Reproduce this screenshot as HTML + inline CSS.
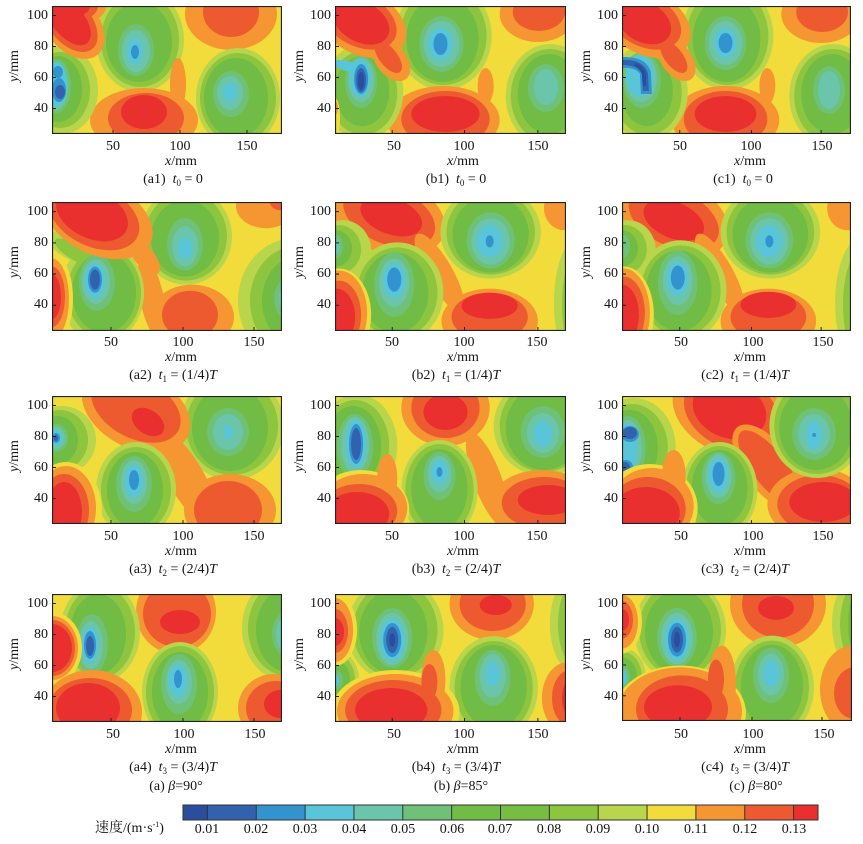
<!DOCTYPE html>
<html><head><meta charset="utf-8">
<style>
html,body{margin:0;padding:0;background:#fff;}
body{width:863px;height:844px;position:relative;overflow:hidden;font-family:"Liberation Serif","Noto Serif CJK SC",serif;color:#151515;}
svg.p{position:absolute;display:block;overflow:hidden;}
.t,.r,.yl{position:absolute;font-size:14px;line-height:14px;white-space:nowrap;}
.t{transform:translate(-50%,-50%);}
.r{transform:translate(-100%,-50%);}
.yl{transform:translate(-50%,-50%) rotate(-90deg);}
sub{font-size:9px;vertical-align:-3px;line-height:0;}
sup{font-size:8px;vertical-align:5px;line-height:0;}
.c0{fill:#2a4e9e}.c1{fill:#3262ad}.c2{fill:#3393cf}.c3{fill:#58c5d9}.c4{fill:#6ac5ab}.c5{fill:#6ec177}
.c6{fill:#70bc44}.c8{fill:#8dc53e}.c9{fill:#b9d54b}.c10{fill:#f1dc3b}.c11{fill:#f59633}.c12{fill:#ee5a2f}.c13{fill:#ea2f2f}
.bd{fill:none;stroke:#222;stroke-width:1.2}
.tk{fill:none;stroke:#222;stroke-width:1}
.cb{font-size:14px !important;}
</style></head><body>

<!-- ================= ROW 1 ================= -->
<svg class="p" style="left:52px;top:6px;width:230px;height:128px" viewBox="0 0 230 128" preserveAspectRatio="none">
<rect class="c10" x="-5" y="-5" width="240" height="140"/>
<ellipse class="c11" cx="179" cy="8" rx="46" ry="36"/>
<ellipse class="c12" cx="179" cy="6" rx="28" ry="25"/>
<ellipse class="c9" cx="88" cy="34" rx="44" ry="52"/>
<ellipse class="c8" cx="88" cy="34" rx="39" ry="47"/>
<ellipse class="c6" cx="87" cy="36" rx="33" ry="40"/>
<ellipse class="c5" cx="84" cy="44" rx="18" ry="26"/>
<ellipse class="c4" cx="84" cy="45" rx="14" ry="21"/>
<ellipse class="c3" cx="83" cy="45" rx="8" ry="13"/>
<ellipse class="c2" cx="83" cy="46" rx="4" ry="7"/>
<ellipse class="c9" cx="186" cy="92" rx="42" ry="50"/>
<ellipse class="c8" cx="186" cy="92" rx="38" ry="45"/>
<ellipse class="c6" cx="184" cy="92" rx="32" ry="40"/>
<ellipse class="c5" cx="179" cy="88" rx="18" ry="23"/>
<ellipse class="c4" cx="178" cy="87" rx="13" ry="17"/>
<ellipse class="c3" cx="178" cy="86" rx="7" ry="9"/>
<ellipse class="c11" cx="92" cy="114" rx="54" ry="32"/>
<ellipse class="c11" cx="126" cy="78" rx="8" ry="26"/>
<ellipse class="c12" cx="94" cy="112" rx="38" ry="25"/>
<ellipse class="c13" cx="92" cy="106" rx="23" ry="17"/>
<ellipse class="c9" cx="10" cy="84" rx="36" ry="44"/>
<ellipse class="c8" cx="8" cy="84" rx="30" ry="38"/>
<ellipse class="c6" cx="6" cy="83" rx="24" ry="33"/>
<ellipse class="c5" cx="4" cy="80" rx="15" ry="27"/>
<ellipse class="c4" cx="4" cy="80" rx="12" ry="24"/>
<ellipse class="c3" cx="5" cy="78" rx="10" ry="22"/>
<ellipse class="c2" cx="7" cy="84" rx="7" ry="12"/>
<ellipse class="c2" cx="6" cy="66" rx="5" ry="6"/>
<ellipse class="c1" cx="8" cy="86" rx="5" ry="7"/>
<ellipse class="c11" cx="20" cy="18" rx="40" ry="26" transform="rotate(50 20 18)"/>
<ellipse class="c11" cx="20" cy="0" rx="34" ry="20"/>
<ellipse class="c12" cx="18" cy="16" rx="35" ry="21" transform="rotate(50 18 16)"/>
<ellipse class="c12" cx="18" cy="0" rx="28" ry="16"/>
<ellipse class="c13" cx="16" cy="14" rx="30" ry="16" transform="rotate(50 16 14)"/>
<ellipse class="c13" cx="16" cy="0" rx="22" ry="12"/>
<path class="tk" d="M61,128v-4M128,128v-4M195,128v-4M0,9.5h4M0,40.5h4M0,71.5h4M0,102.5h4"/>
<rect class="bd" x="0.5" y="0.5" width="229" height="127"/>
</svg>

<svg class="p" style="left:335px;top:6px;width:231px;height:128px" viewBox="0 0 230 128" preserveAspectRatio="none">
<rect class="c10" x="-5" y="-5" width="240" height="140"/>
<ellipse class="c11" cx="202" cy="8" rx="38" ry="28"/>
<ellipse class="c12" cx="203" cy="6" rx="26" ry="19"/>
<ellipse class="c9" cx="108" cy="30" rx="48" ry="54"/>
<ellipse class="c8" cx="108" cy="30" rx="43" ry="49"/>
<ellipse class="c6" cx="107" cy="33" rx="36" ry="43"/>
<ellipse class="c5" cx="106" cy="38" rx="22" ry="28"/>
<ellipse class="c4" cx="106" cy="38" rx="18" ry="23"/>
<ellipse class="c3" cx="105" cy="38" rx="12" ry="16"/>
<ellipse class="c2" cx="105" cy="38" rx="7" ry="11"/>
<ellipse class="c9" cx="214" cy="90" rx="44" ry="52"/>
<ellipse class="c8" cx="214" cy="90" rx="39" ry="47"/>
<ellipse class="c6" cx="213" cy="88" rx="31" ry="40"/>
<ellipse class="c5" cx="210" cy="82" rx="18" ry="24"/>
<ellipse class="c4" cx="210" cy="81" rx="12" ry="18"/>
<ellipse class="c11" cx="108" cy="114" rx="56" ry="34"/>
<ellipse class="c11" cx="150" cy="80" rx="8" ry="18"/>
<ellipse class="c12" cx="110" cy="113" rx="44" ry="28"/>
<ellipse class="c13" cx="110" cy="108" rx="34" ry="18"/>
<ellipse class="c9" cx="28" cy="86" rx="40" ry="48"/>
<ellipse class="c8" cx="28" cy="87" rx="34" ry="42"/>
<ellipse class="c6" cx="27" cy="85" rx="27" ry="35"/>
<ellipse class="c5" cx="26" cy="76" rx="16" ry="26"/>
<ellipse class="c4" cx="26" cy="74" rx="13" ry="22"/>
<ellipse class="c3" cx="12" cy="60" rx="14" ry="5" transform="rotate(15 12 60)"/>
<ellipse class="c3" cx="25" cy="72" rx="10" ry="19"/>
<ellipse class="c2" cx="26" cy="73" rx="7" ry="15"/>
<ellipse class="c1" cx="26" cy="74" rx="5" ry="12"/>
<ellipse class="c0" cx="26" cy="75" rx="3" ry="9"/>
<ellipse class="c10" cx="0" cy="112" rx="5" ry="20"/>
<ellipse class="c11" cx="0" cy="102" rx="3" ry="7"/>
<ellipse class="c11" cx="56" cy="54" rx="15" ry="24" transform="rotate(-38 56 54)"/>
<ellipse class="c11" cx="26" cy="16" rx="48" ry="32" transform="rotate(28 26 16)"/>
<ellipse class="c12" cx="53" cy="51" rx="9" ry="19" transform="rotate(-38 53 51)"/>
<ellipse class="c12" cx="24" cy="14" rx="40" ry="26" transform="rotate(28 24 14)"/>
<ellipse class="c13" cx="26" cy="16" rx="30" ry="20" transform="rotate(28 26 16)"/>
<path class="tk" d="M57,128v-4M129,128v-4M202,128v-4M0,9.5h4M0,40.5h4M0,71.5h4M0,102.5h4"/>
<rect class="bd" x="0.5" y="0.5" width="229" height="127"/>
</svg>

<svg class="p" style="left:622px;top:6px;width:229px;height:128px" viewBox="0 0 230 128" preserveAspectRatio="none">
<rect class="c10" x="-5" y="-5" width="240" height="140"/>
<ellipse class="c11" cx="200" cy="8" rx="40" ry="29"/>
<ellipse class="c12" cx="201" cy="6" rx="26" ry="20"/>
<ellipse class="c9" cx="106" cy="30" rx="46" ry="54"/>
<ellipse class="c8" cx="106" cy="30" rx="41" ry="49"/>
<ellipse class="c6" cx="105" cy="33" rx="34" ry="43"/>
<ellipse class="c5" cx="104" cy="37" rx="21" ry="27"/>
<ellipse class="c4" cx="104" cy="37" rx="17" ry="22"/>
<ellipse class="c3" cx="104" cy="37" rx="11" ry="15"/>
<ellipse class="c2" cx="104" cy="37" rx="7" ry="10"/>
<ellipse class="c9" cx="212" cy="90" rx="44" ry="52"/>
<ellipse class="c8" cx="212" cy="90" rx="39" ry="47"/>
<ellipse class="c6" cx="211" cy="88" rx="31" ry="40"/>
<ellipse class="c5" cx="208" cy="84" rx="16" ry="24"/>
<ellipse class="c4" cx="208" cy="84" rx="11" ry="19"/>
<ellipse class="c11" cx="104" cy="114" rx="54" ry="34"/>
<ellipse class="c11" cx="146" cy="80" rx="8" ry="18"/>
<ellipse class="c12" cx="104" cy="113" rx="42" ry="28"/>
<ellipse class="c13" cx="104" cy="108" rx="31" ry="18"/>
<ellipse class="c9" cx="26" cy="86" rx="40" ry="48"/>
<ellipse class="c8" cx="26" cy="87" rx="34" ry="42"/>
<ellipse class="c6" cx="25" cy="85" rx="26" ry="35"/>
<ellipse class="c5" cx="20" cy="74" rx="19" ry="28"/>
<ellipse class="c4" cx="19" cy="72" rx="16" ry="24"/>
<ellipse class="c3" cx="18" cy="70" rx="14" ry="20"/>
<path class="c2" d="M0,51 Q24,50 29,66 L30,88 L19,88 L18,68 Q14,61 0,62 Z"/>
<path class="c1" d="M0,54 Q21,53 26,67 L27,85 L21,85 L20,68 Q16,59 0,59 Z"/>
<path class="c0" d="M14,57 Q22,60 24,68 L24,80 L21,80 L20,68 Q18,62 12,59 Z"/>
<ellipse class="c11" cx="55" cy="54" rx="15" ry="24" transform="rotate(-38 55 54)"/>
<ellipse class="c11" cx="24" cy="16" rx="48" ry="32" transform="rotate(28 24 16)"/>
<ellipse class="c12" cx="52" cy="51" rx="9" ry="19" transform="rotate(-38 52 51)"/>
<ellipse class="c12" cx="22" cy="14" rx="40" ry="26" transform="rotate(28 22 14)"/>
<ellipse class="c13" cx="22" cy="16" rx="29" ry="20" transform="rotate(28 22 16)"/>
<path class="tk" d="M58,128v-4M130,128v-4M200,128v-4M0,9.5h4M0,40.5h4M0,71.5h4M0,102.5h4"/>
<rect class="bd" x="0.5" y="0.5" width="229" height="127"/>
</svg>

<!-- ================= ROW 2 ================= -->
<svg class="p" style="left:52px;top:202px;width:230px;height:129px" viewBox="0 0 230 128" preserveAspectRatio="none">
<rect class="c10" x="-5" y="-5" width="240" height="140"/>
<ellipse class="c11" cx="214" cy="4" rx="30" ry="22"/>
<ellipse class="c12" cx="228" cy="0" rx="10" ry="8"/>
<ellipse class="c9" cx="134" cy="34" rx="46" ry="48"/>
<ellipse class="c8" cx="134" cy="34" rx="41" ry="44"/>
<ellipse class="c6" cx="133" cy="36" rx="34" ry="38"/>
<ellipse class="c5" cx="133" cy="42" rx="18" ry="26"/>
<ellipse class="c4" cx="133" cy="44" rx="13" ry="20"/>
<ellipse class="c3" cx="133" cy="46" rx="7" ry="11"/>
<ellipse class="c9" cx="242" cy="98" rx="56" ry="62"/>
<ellipse class="c8" cx="244" cy="98" rx="46" ry="54"/>
<ellipse class="c6" cx="246" cy="98" rx="36" ry="44"/>
<ellipse class="c5" cx="242" cy="96" rx="20" ry="24"/>
<ellipse class="c4" cx="242" cy="96" rx="15" ry="19"/>
<ellipse class="c11" cx="140" cy="114" rx="42" ry="32"/>
<ellipse class="c11" cx="100" cy="96" rx="12" ry="42" transform="rotate(-12 100 96)"/>
<ellipse class="c11" cx="92" cy="54" rx="10" ry="22" transform="rotate(-40 92 54)"/>
<ellipse class="c12" cx="138" cy="112" rx="28" ry="24"/>
<ellipse class="c9" cx="22" cy="46" rx="30" ry="12" transform="rotate(25 22 46)"/>
<ellipse class="c9" cx="50" cy="90" rx="42" ry="50"/>
<ellipse class="c8" cx="24" cy="50" rx="24" ry="8" transform="rotate(30 24 50)"/>
<ellipse class="c8" cx="52" cy="90" rx="37" ry="45"/>
<ellipse class="c6" cx="52" cy="90" rx="32" ry="40"/>
<ellipse class="c5" cx="45" cy="80" rx="18" ry="28"/>
<ellipse class="c4" cx="44" cy="79" rx="14" ry="22"/>
<ellipse class="c3" cx="43" cy="78" rx="10" ry="17"/>
<ellipse class="c2" cx="43" cy="77" rx="7" ry="13"/>
<ellipse class="c1" cx="43" cy="77" rx="5" ry="10"/>
<ellipse class="c10" cx="0" cy="96" rx="21" ry="46"/>
<ellipse class="c11" cx="0" cy="96" rx="17" ry="40"/>
<ellipse class="c12" cx="0" cy="94" rx="13" ry="30"/>
<ellipse class="c13" cx="0" cy="94" rx="9" ry="22"/>
<ellipse class="c11" cx="46" cy="16" rx="58" ry="36" transform="rotate(25 46 16)"/>
<ellipse class="c12" cx="42" cy="14" rx="48" ry="30" transform="rotate(25 42 14)"/>
<ellipse class="c13" cx="40" cy="12" rx="38" ry="24" transform="rotate(25 40 12)"/>
<path class="tk" d="M59,128v-4M131,128v-4M202,128v-4M0,9.5h4M0,40.5h4M0,71.5h4M0,102.5h4"/>
<rect class="bd" x="0.5" y="0.5" width="229" height="127"/>
</svg>

<svg class="p" style="left:335px;top:202px;width:231px;height:129px" viewBox="0 0 230 128" preserveAspectRatio="none">
<rect class="c10" x="-5" y="-5" width="240" height="140"/>
<ellipse class="c11" cx="228" cy="6" rx="20" ry="22"/>
<ellipse class="c11" cx="50" cy="12" rx="62" ry="38" transform="rotate(20 50 12)"/>
<ellipse class="c12" cx="54" cy="14" rx="48" ry="28" transform="rotate(22 54 14)"/>
<ellipse class="c13" cx="56" cy="14" rx="32" ry="18" transform="rotate(20 56 14)"/>
<ellipse class="c11" cx="104" cy="70" rx="13" ry="44" transform="rotate(-30 104 70)"/>
<ellipse class="c9" cx="155" cy="30" rx="50" ry="46"/>
<ellipse class="c8" cx="155" cy="30" rx="44" ry="42"/>
<ellipse class="c6" cx="155" cy="32" rx="38" ry="38"/>
<ellipse class="c5" cx="155" cy="38" rx="24" ry="28"/>
<ellipse class="c4" cx="155" cy="39" rx="19" ry="23"/>
<ellipse class="c3" cx="154" cy="39" rx="13" ry="16"/>
<ellipse class="c2" cx="154" cy="39" rx="4" ry="6"/>
<ellipse class="c9" cx="242" cy="100" rx="24" ry="64"/>
<ellipse class="c8" cx="244" cy="102" rx="18" ry="56"/>
<ellipse class="c6" cx="246" cy="104" rx="14" ry="46"/>
<ellipse class="c11" cx="154" cy="118" rx="48" ry="32"/>
<ellipse class="c12" cx="154" cy="114" rx="38" ry="24"/>
<ellipse class="c13" cx="154" cy="103" rx="28" ry="13"/>
<ellipse class="c9" cx="8" cy="48" rx="28" ry="30"/>
<ellipse class="c8" cx="4" cy="47" rx="22" ry="24"/>
<ellipse class="c6" cx="1" cy="46" rx="16" ry="18"/>
<ellipse class="c5" cx="0" cy="44" rx="8" ry="12"/>
<ellipse class="c4" cx="0" cy="44" rx="5" ry="8"/>
<ellipse class="c9" cx="62" cy="90" rx="46" ry="50"/>
<ellipse class="c8" cx="62" cy="90" rx="40" ry="45"/>
<ellipse class="c6" cx="60" cy="90" rx="33" ry="40"/>
<ellipse class="c5" cx="59" cy="82" rx="20" ry="32"/>
<ellipse class="c4" cx="59" cy="80" rx="15" ry="24"/>
<ellipse class="c3" cx="59" cy="78" rx="11" ry="17"/>
<ellipse class="c2" cx="59" cy="77" rx="7" ry="12"/>
<ellipse class="c10" cx="4" cy="112" rx="32" ry="46"/>
<ellipse class="c11" cx="4" cy="110" rx="28" ry="42"/>
<ellipse class="c12" cx="4" cy="112" rx="22" ry="34"/>
<ellipse class="c13" cx="2" cy="114" rx="18" ry="28"/>
<path class="tk" d="M57,128v-4M129,128v-4M202,128v-4M0,9.5h4M0,40.5h4M0,71.5h4M0,102.5h4"/>
<rect class="bd" x="0.5" y="0.5" width="229" height="127"/>
</svg>

<svg class="p" style="left:622px;top:202px;width:229px;height:129px" viewBox="0 0 230 128" preserveAspectRatio="none">
<rect class="c10" x="-5" y="-5" width="240" height="140"/>
<ellipse class="c11" cx="226" cy="6" rx="20" ry="22"/>
<ellipse class="c11" cx="48" cy="14" rx="62" ry="38" transform="rotate(22 48 14)"/>
<ellipse class="c12" cx="52" cy="16" rx="48" ry="28" transform="rotate(24 52 16)"/>
<ellipse class="c13" cx="52" cy="18" rx="32" ry="18" transform="rotate(22 52 18)"/>
<ellipse class="c11" cx="98" cy="70" rx="13" ry="44" transform="rotate(-30 98 70)"/>
<ellipse class="c9" cx="149" cy="30" rx="50" ry="46"/>
<ellipse class="c8" cx="149" cy="30" rx="44" ry="42"/>
<ellipse class="c6" cx="149" cy="32" rx="38" ry="38"/>
<ellipse class="c5" cx="148" cy="38" rx="24" ry="28"/>
<ellipse class="c4" cx="148" cy="39" rx="19" ry="23"/>
<ellipse class="c3" cx="148" cy="39" rx="13" ry="16"/>
<ellipse class="c2" cx="148" cy="39" rx="4" ry="6"/>
<ellipse class="c9" cx="240" cy="100" rx="26" ry="64"/>
<ellipse class="c8" cx="242" cy="102" rx="20" ry="56"/>
<ellipse class="c6" cx="244" cy="104" rx="15" ry="46"/>
<ellipse class="c11" cx="147" cy="118" rx="48" ry="32"/>
<ellipse class="c12" cx="147" cy="114" rx="38" ry="24"/>
<ellipse class="c13" cx="147" cy="102" rx="28" ry="13"/>
<ellipse class="c9" cx="6" cy="48" rx="28" ry="30"/>
<ellipse class="c8" cx="3" cy="47" rx="22" ry="24"/>
<ellipse class="c6" cx="0" cy="46" rx="16" ry="18"/>
<ellipse class="c5" cx="0" cy="44" rx="8" ry="12"/>
<ellipse class="c9" cx="59" cy="88" rx="46" ry="50"/>
<ellipse class="c8" cx="59" cy="88" rx="40" ry="45"/>
<ellipse class="c6" cx="57" cy="88" rx="33" ry="40"/>
<ellipse class="c5" cx="56" cy="80" rx="20" ry="32"/>
<ellipse class="c4" cx="56" cy="78" rx="15" ry="24"/>
<ellipse class="c3" cx="56" cy="76" rx="11" ry="17"/>
<ellipse class="c2" cx="56" cy="75" rx="7" ry="12"/>
<ellipse class="c10" cx="2" cy="112" rx="30" ry="48"/>
<ellipse class="c11" cx="2" cy="110" rx="26" ry="44"/>
<ellipse class="c12" cx="2" cy="110" rx="21" ry="36"/>
<ellipse class="c13" cx="0" cy="112" rx="17" ry="30"/>
<path class="tk" d="M58,128v-4M130,128v-4M200,128v-4M0,9.5h4M0,40.5h4M0,71.5h4M0,102.5h4"/>
<rect class="bd" x="0.5" y="0.5" width="229" height="127"/>
</svg>

<!-- ================= ROW 3 ================= -->
<svg class="p" style="left:52px;top:396px;width:230px;height:128px" viewBox="0 0 230 128" preserveAspectRatio="none">
<rect class="c10" x="-5" y="-5" width="240" height="140"/>
<ellipse class="c9" cx="180" cy="30" rx="52" ry="54"/>
<ellipse class="c8" cx="180" cy="30" rx="46" ry="49"/>
<ellipse class="c6" cx="178" cy="32" rx="38" ry="43"/>
<ellipse class="c5" cx="176" cy="36" rx="21" ry="24"/>
<ellipse class="c4" cx="176" cy="36" rx="15" ry="18"/>
<ellipse class="c3" cx="176" cy="36" rx="5" ry="7"/>
<ellipse class="c11" cx="134" cy="82" rx="18" ry="54" transform="rotate(-30 134 82)"/>
<ellipse class="c11" cx="84" cy="14" rx="58" ry="38" transform="rotate(28 84 14)"/>
<ellipse class="c12" cx="84" cy="12" rx="48" ry="30" transform="rotate(28 84 12)"/>
<ellipse class="c13" cx="96" cy="26" rx="18" ry="12" transform="rotate(35 96 26)"/>
<ellipse class="c11" cx="178" cy="114" rx="46" ry="36"/>
<ellipse class="c12" cx="176" cy="114" rx="34" ry="29"/>
<ellipse class="c9" cx="10" cy="44" rx="34" ry="34"/>
<ellipse class="c8" cx="8" cy="44" rx="28" ry="30"/>
<ellipse class="c6" cx="6" cy="44" rx="20" ry="24"/>
<ellipse class="c5" cx="4" cy="42" rx="12" ry="14"/>
<ellipse class="c4" cx="4" cy="42" rx="9" ry="11"/>
<ellipse class="c3" cx="4" cy="42" rx="6" ry="8"/>
<ellipse class="c2" cx="4" cy="42" rx="4" ry="5"/>
<ellipse class="c1" cx="4" cy="42" rx="2" ry="3"/>
<ellipse class="c9" cx="84" cy="94" rx="40" ry="48"/>
<ellipse class="c8" cx="84" cy="94" rx="35" ry="43"/>
<ellipse class="c6" cx="83" cy="94" rx="28" ry="38"/>
<ellipse class="c5" cx="82" cy="88" rx="18" ry="28"/>
<ellipse class="c4" cx="82" cy="86" rx="13" ry="22"/>
<ellipse class="c3" cx="82" cy="85" rx="9" ry="16"/>
<ellipse class="c2" cx="82" cy="84" rx="5" ry="10"/>
<ellipse class="c10" cx="14" cy="114" rx="36" ry="48"/>
<ellipse class="c11" cx="14" cy="112" rx="30" ry="42"/>
<ellipse class="c12" cx="12" cy="114" rx="25" ry="36"/>
<ellipse class="c13" cx="12" cy="116" rx="18" ry="30"/>
<path class="tk" d="M59,128v-4M131,128v-4M202,128v-4M0,9.5h4M0,40.5h4M0,71.5h4M0,102.5h4"/>
<rect class="bd" x="0.5" y="0.5" width="229" height="127"/>
</svg>

<svg class="p" style="left:335px;top:396px;width:231px;height:128px" viewBox="0 0 230 128" preserveAspectRatio="none">
<rect class="c10" x="-5" y="-5" width="240" height="140"/>
<ellipse class="c11" cx="110" cy="12" rx="44" ry="38"/>
<ellipse class="c12" cx="110" cy="12" rx="34" ry="30"/>
<ellipse class="c13" cx="110" cy="16" rx="22" ry="18"/>
<ellipse class="c11" cx="152" cy="84" rx="14" ry="50" transform="rotate(-20 152 84)"/>
<ellipse class="c9" cx="208" cy="30" rx="50" ry="50"/>
<ellipse class="c8" cx="208" cy="30" rx="44" ry="46"/>
<ellipse class="c6" cx="208" cy="32" rx="38" ry="42"/>
<ellipse class="c5" cx="207" cy="36" rx="22" ry="26"/>
<ellipse class="c4" cx="207" cy="37" rx="16" ry="20"/>
<ellipse class="c3" cx="207" cy="38" rx="9" ry="13"/>
<ellipse class="c11" cx="206" cy="106" rx="50" ry="32"/>
<ellipse class="c12" cx="208" cy="107" rx="42" ry="26"/>
<ellipse class="c13" cx="212" cy="104" rx="30" ry="15"/>
<ellipse class="c9" cx="22" cy="50" rx="40" ry="52"/>
<ellipse class="c8" cx="20" cy="50" rx="34" ry="46"/>
<ellipse class="c6" cx="18" cy="50" rx="28" ry="40"/>
<ellipse class="c5" cx="20" cy="50" rx="18" ry="32"/>
<ellipse class="c4" cx="20" cy="49" rx="14" ry="28"/>
<ellipse class="c3" cx="21" cy="48" rx="10" ry="24"/>
<ellipse class="c2" cx="21" cy="48" rx="7" ry="20"/>
<ellipse class="c1" cx="21" cy="48" rx="5" ry="16"/>
<ellipse class="c9" cx="104" cy="94" rx="38" ry="50"/>
<ellipse class="c8" cx="104" cy="94" rx="34" ry="46"/>
<ellipse class="c6" cx="104" cy="93" rx="28" ry="40"/>
<ellipse class="c5" cx="104" cy="80" rx="16" ry="24"/>
<ellipse class="c4" cx="104" cy="78" rx="12" ry="18"/>
<ellipse class="c3" cx="104" cy="76" rx="8" ry="12"/>
<ellipse class="c2" cx="104" cy="76" rx="3" ry="5"/>
<ellipse class="c10" cx="26" cy="114" rx="48" ry="40"/>
<ellipse class="c11" cx="28" cy="112" rx="44" ry="34"/>
<ellipse class="c11" cx="52" cy="82" rx="10" ry="24"/>
<ellipse class="c12" cx="24" cy="115" rx="38" ry="27"/>
<ellipse class="c13" cx="22" cy="118" rx="32" ry="22"/>
<path class="tk" d="M57,128v-4M129,128v-4M202,128v-4M0,9.5h4M0,40.5h4M0,71.5h4M0,102.5h4"/>
<rect class="bd" x="0.5" y="0.5" width="229" height="127"/>
</svg>

<svg class="p" style="left:622px;top:396px;width:229px;height:128px" viewBox="0 0 230 128" preserveAspectRatio="none">
<rect class="c10" x="-5" y="-5" width="240" height="140"/>
<ellipse class="c11" cx="108" cy="16" rx="60" ry="42" transform="rotate(25 108 16)"/>
<ellipse class="c12" cx="110" cy="16" rx="50" ry="36" transform="rotate(25 110 16)"/>
<ellipse class="c13" cx="108" cy="14" rx="38" ry="28" transform="rotate(20 108 14)"/>
<ellipse class="c11" cx="148" cy="72" rx="24" ry="52" transform="rotate(-38 148 72)"/>
<ellipse class="c12" cx="148" cy="72" rx="17" ry="46" transform="rotate(-38 148 72)"/>
<ellipse class="c11" cx="196" cy="108" rx="50" ry="36"/>
<ellipse class="c12" cx="198" cy="108" rx="42" ry="29"/>
<ellipse class="c13" cx="202" cy="106" rx="34" ry="20"/>
<ellipse class="c9" cx="196" cy="30" rx="48" ry="52"/>
<ellipse class="c8" cx="196" cy="30" rx="43" ry="48"/>
<ellipse class="c6" cx="195" cy="32" rx="37" ry="42"/>
<ellipse class="c5" cx="193" cy="38" rx="22" ry="26"/>
<ellipse class="c4" cx="193" cy="38" rx="16" ry="20"/>
<ellipse class="c3" cx="193" cy="39" rx="8" ry="14"/>
<ellipse class="c2" cx="193" cy="39" rx="2" ry="2"/>
<ellipse class="c9" cx="12" cy="52" rx="42" ry="50"/>
<ellipse class="c8" cx="10" cy="52" rx="36" ry="44"/>
<ellipse class="c6" cx="8" cy="52" rx="28" ry="38"/>
<ellipse class="c5" cx="6" cy="52" rx="18" ry="32"/>
<ellipse class="c4" cx="6" cy="52" rx="14" ry="28"/>
<ellipse class="c3" cx="5" cy="52" rx="10" ry="24"/>
<ellipse class="c2" cx="8" cy="38" rx="9" ry="8"/>
<ellipse class="c1" cx="8" cy="37" rx="7" ry="6"/>
<ellipse class="c2" cx="4" cy="71" rx="7" ry="7"/>
<ellipse class="c1" cx="3" cy="71" rx="5" ry="5"/>
<ellipse class="c9" cx="98" cy="94" rx="38" ry="48"/>
<ellipse class="c8" cx="98" cy="94" rx="34" ry="44"/>
<ellipse class="c6" cx="98" cy="92" rx="28" ry="38"/>
<ellipse class="c5" cx="97" cy="82" rx="17" ry="26"/>
<ellipse class="c4" cx="97" cy="80" rx="13" ry="22"/>
<ellipse class="c3" cx="97" cy="79" rx="10" ry="17"/>
<ellipse class="c2" cx="97" cy="78" rx="6" ry="12"/>
<ellipse class="c10" cx="28" cy="112" rx="48" ry="44"/>
<ellipse class="c11" cx="30" cy="110" rx="42" ry="38"/>
<ellipse class="c11" cx="52" cy="80" rx="12" ry="26"/>
<ellipse class="c12" cx="26" cy="113" rx="38" ry="32"/>
<ellipse class="c13" cx="24" cy="117" rx="34" ry="26"/>
<path class="tk" d="M58,128v-4M130,128v-4M200,128v-4M0,9.5h4M0,40.5h4M0,71.5h4M0,102.5h4"/>
<rect class="bd" x="0.5" y="0.5" width="229" height="127"/>
</svg>

<!-- ================= ROW 4 ================= -->
<svg class="p" style="left:52px;top:594px;width:230px;height:128px" viewBox="0 0 230 128" preserveAspectRatio="none">
<rect class="c10" x="-5" y="-5" width="240" height="140"/>
<ellipse class="c9" cx="236" cy="34" rx="46" ry="54"/>
<ellipse class="c8" cx="236" cy="34" rx="40" ry="48"/>
<ellipse class="c6" cx="236" cy="36" rx="32" ry="42"/>
<ellipse class="c5" cx="234" cy="40" rx="14" ry="22"/>
<ellipse class="c4" cx="234" cy="40" rx="10" ry="18"/>
<ellipse class="c11" cx="222" cy="114" rx="36" ry="34"/>
<ellipse class="c12" cx="224" cy="114" rx="30" ry="27"/>
<ellipse class="c13" cx="228" cy="110" rx="16" ry="14"/>
<ellipse class="c11" cx="124" cy="18" rx="40" ry="42"/>
<ellipse class="c12" cx="125" cy="20" rx="34" ry="33"/>
<ellipse class="c13" cx="128" cy="28" rx="20" ry="12"/>
<ellipse class="c9" cx="128" cy="98" rx="38" ry="50"/>
<ellipse class="c8" cx="128" cy="98" rx="34" ry="46"/>
<ellipse class="c6" cx="128" cy="98" rx="28" ry="40"/>
<ellipse class="c5" cx="127" cy="90" rx="18" ry="30"/>
<ellipse class="c4" cx="127" cy="88" rx="13" ry="22"/>
<ellipse class="c3" cx="126" cy="87" rx="9" ry="16"/>
<ellipse class="c2" cx="126" cy="85" rx="4" ry="9"/>
<ellipse class="c9" cx="48" cy="38" rx="40" ry="50"/>
<ellipse class="c8" cx="48" cy="38" rx="35" ry="46"/>
<ellipse class="c6" cx="46" cy="40" rx="28" ry="40"/>
<ellipse class="c5" cx="40" cy="50" rx="16" ry="30"/>
<ellipse class="c4" cx="39" cy="51" rx="12" ry="24"/>
<ellipse class="c3" cx="38" cy="51" rx="8" ry="18"/>
<ellipse class="c2" cx="38" cy="51" rx="6" ry="14"/>
<ellipse class="c1" cx="38" cy="52" rx="4" ry="10"/>
<ellipse class="c9" cx="10" cy="88" rx="16" ry="7"/>
<ellipse class="c10" cx="0" cy="54" rx="30" ry="36"/>
<ellipse class="c11" cx="0" cy="54" rx="26" ry="32"/>
<ellipse class="c12" cx="0" cy="54" rx="23" ry="28"/>
<ellipse class="c13" cx="0" cy="54" rx="20" ry="24"/>
<ellipse class="c11" cx="40" cy="118" rx="50" ry="42"/>
<ellipse class="c12" cx="38" cy="116" rx="42" ry="32"/>
<ellipse class="c13" cx="36" cy="114" rx="32" ry="25"/>
<path class="tk" d="M59,128v-4M131,128v-4M202,128v-4M0,9.5h4M0,40.5h4M0,71.5h4M0,102.5h4"/>
<rect class="bd" x="0.5" y="0.5" width="229" height="127"/>
</svg>

<svg class="p" style="left:335px;top:594px;width:231px;height:128px" viewBox="0 0 230 128" preserveAspectRatio="none">
<rect class="c10" x="-5" y="-5" width="240" height="140"/>
<ellipse class="c11" cx="156" cy="10" rx="42" ry="36"/>
<ellipse class="c12" cx="157" cy="10" rx="33" ry="27"/>
<ellipse class="c13" cx="160" cy="11" rx="16" ry="10"/>
<ellipse class="c9" cx="238" cy="30" rx="24" ry="48"/>
<ellipse class="c8" cx="240" cy="30" rx="18" ry="42"/>
<ellipse class="c6" cx="242" cy="30" rx="13" ry="34"/>
<ellipse class="c11" cx="232" cy="104" rx="26" ry="36"/>
<ellipse class="c12" cx="234" cy="104" rx="18" ry="28"/>
<ellipse class="c13" cx="236" cy="104" rx="10" ry="20"/>
<ellipse class="c9" cx="158" cy="94" rx="44" ry="52"/>
<ellipse class="c8" cx="158" cy="94" rx="39" ry="47"/>
<ellipse class="c6" cx="158" cy="93" rx="33" ry="42"/>
<ellipse class="c5" cx="157" cy="84" rx="18" ry="28"/>
<ellipse class="c4" cx="157" cy="82" rx="13" ry="22"/>
<ellipse class="c3" cx="157" cy="80" rx="7" ry="12"/>
<ellipse class="c9" cx="60" cy="36" rx="48" ry="52"/>
<ellipse class="c8" cx="60" cy="36" rx="42" ry="48"/>
<ellipse class="c6" cx="58" cy="38" rx="34" ry="42"/>
<ellipse class="c5" cx="57" cy="44" rx="20" ry="30"/>
<ellipse class="c4" cx="57" cy="45" rx="16" ry="26"/>
<ellipse class="c3" cx="57" cy="46" rx="12" ry="21"/>
<ellipse class="c2" cx="57" cy="46" rx="9" ry="17"/>
<ellipse class="c1" cx="57" cy="46" rx="6" ry="13"/>
<ellipse class="c0" cx="57" cy="46" rx="3" ry="7"/>
<ellipse class="c9" cx="0" cy="86" rx="24" ry="30"/>
<ellipse class="c8" cx="0" cy="86" rx="20" ry="26"/>
<ellipse class="c6" cx="0" cy="86" rx="15" ry="20"/>
<ellipse class="c5" cx="0" cy="86" rx="8" ry="10"/>
<ellipse class="c3" cx="0" cy="86" rx="4" ry="6"/>
<ellipse class="c10" cx="0" cy="36" rx="22" ry="36"/>
<ellipse class="c11" cx="0" cy="36" rx="18" ry="32"/>
<ellipse class="c12" cx="0" cy="37" rx="13" ry="22"/>
<ellipse class="c13" cx="0" cy="38" rx="9" ry="14"/>
<ellipse class="c10" cx="60" cy="118" rx="64" ry="42"/>
<ellipse class="c11" cx="60" cy="117" rx="58" ry="37"/>
<ellipse class="c11" cx="98" cy="86" rx="12" ry="30"/>
<ellipse class="c12" cx="58" cy="116" rx="48" ry="30"/>
<ellipse class="c12" cx="94" cy="88" rx="8" ry="18"/>
<ellipse class="c13" cx="56" cy="116" rx="36" ry="22"/>
<path class="tk" d="M57,128v-4M129,128v-4M202,128v-4M0,9.5h4M0,40.5h4M0,71.5h4M0,102.5h4"/>
<rect class="bd" x="0.5" y="0.5" width="229" height="127"/>
</svg>

<svg class="p" style="left:622px;top:594px;width:230px;height:127px" viewBox="0 0 230 128" preserveAspectRatio="none">
<rect class="c10" x="-5" y="-5" width="240" height="140"/>
<ellipse class="c11" cx="156" cy="10" rx="48" ry="44"/>
<ellipse class="c12" cx="156" cy="10" rx="36" ry="34"/>
<ellipse class="c13" cx="154" cy="14" rx="18" ry="12"/>
<ellipse class="c9" cx="236" cy="30" rx="26" ry="48"/>
<ellipse class="c8" cx="238" cy="30" rx="20" ry="42"/>
<ellipse class="c6" cx="240" cy="30" rx="14" ry="38"/>
<ellipse class="c11" cx="230" cy="96" rx="32" ry="44"/>
<ellipse class="c12" cx="232" cy="100" rx="20" ry="26"/>
<ellipse class="c9" cx="150" cy="94" rx="42" ry="52"/>
<ellipse class="c8" cx="150" cy="94" rx="37" ry="47"/>
<ellipse class="c6" cx="150" cy="93" rx="31" ry="42"/>
<ellipse class="c5" cx="149" cy="82" rx="18" ry="28"/>
<ellipse class="c4" cx="149" cy="81" rx="13" ry="21"/>
<ellipse class="c3" cx="149" cy="80" rx="8" ry="13"/>
<ellipse class="c9" cx="58" cy="36" rx="46" ry="52"/>
<ellipse class="c8" cx="58" cy="36" rx="41" ry="48"/>
<ellipse class="c6" cx="57" cy="38" rx="34" ry="42"/>
<ellipse class="c5" cx="55" cy="44" rx="20" ry="30"/>
<ellipse class="c4" cx="55" cy="45" rx="16" ry="26"/>
<ellipse class="c3" cx="55" cy="46" rx="12" ry="21"/>
<ellipse class="c2" cx="55" cy="46" rx="9" ry="17"/>
<ellipse class="c1" cx="55" cy="46" rx="6" ry="13"/>
<ellipse class="c0" cx="55" cy="46" rx="3" ry="8"/>
<ellipse class="c9" cx="0" cy="84" rx="24" ry="30"/>
<ellipse class="c8" cx="0" cy="84" rx="20" ry="26"/>
<ellipse class="c6" cx="0" cy="84" rx="15" ry="20"/>
<ellipse class="c5" cx="0" cy="84" rx="8" ry="12"/>
<ellipse class="c3" cx="0" cy="84" rx="5" ry="8"/>
<ellipse class="c10" cx="0" cy="28" rx="20" ry="32"/>
<ellipse class="c11" cx="0" cy="28" rx="16" ry="27"/>
<ellipse class="c12" cx="0" cy="26" rx="11" ry="19"/>
<ellipse class="c13" cx="0" cy="26" rx="7" ry="11"/>
<ellipse class="c10" cx="58" cy="120" rx="66" ry="48"/>
<ellipse class="c11" cx="58" cy="118" rx="62" ry="44"/>
<ellipse class="c11" cx="100" cy="90" rx="14" ry="38"/>
<ellipse class="c12" cx="60" cy="116" rx="46" ry="34"/>
<ellipse class="c12" cx="94" cy="86" rx="8" ry="20"/>
<ellipse class="c13" cx="56" cy="114" rx="34" ry="22"/>
<path class="tk" d="M58,128v-4M130,128v-4M200,128v-4M0,9.5h4M0,40.5h4M0,71.5h4M0,102.5h4"/>
<rect class="bd" x="0.5" y="0.5" width="229" height="127"/>
</svg>

<!-- ================= TEXT: Column A ================= -->
<div class="yl" style="left:15px;top:66px"><i>y</i>/mm</div>
<div class="r" style="left:48px;top:15.5px">100</div><div class="r" style="left:48px;top:46.5px">80</div><div class="r" style="left:48px;top:77.5px">60</div><div class="r" style="left:48px;top:108.5px">40</div>
<div class="t" style="left:113px;top:147px">50</div><div class="t" style="left:180px;top:147px">100</div><div class="t" style="left:247px;top:147px">150</div>
<div class="t" style="left:181px;top:162px"><i>x</i>/mm</div>
<div class="t" style="left:173px;top:180px">(a1)&nbsp;&nbsp;<i>t</i><sub>0</sub>&nbsp;=&nbsp;0</div>

<div class="yl" style="left:15px;top:262px"><i>y</i>/mm</div>
<div class="r" style="left:48px;top:211.5px">100</div><div class="r" style="left:48px;top:242.5px">80</div><div class="r" style="left:48px;top:273.5px">60</div><div class="r" style="left:48px;top:304.5px">40</div>
<div class="t" style="left:111px;top:343px">50</div><div class="t" style="left:183px;top:343px">100</div><div class="t" style="left:254px;top:343px">150</div>
<div class="t" style="left:181px;top:358px"><i>x</i>/mm</div>
<div class="t" style="left:173px;top:376px">(a2)&nbsp;&nbsp;<i>t</i><sub>1</sub>&nbsp;=&nbsp;(1/4)<i>T</i></div>

<div class="yl" style="left:15px;top:456px"><i>y</i>/mm</div>
<div class="r" style="left:48px;top:405.5px">100</div><div class="r" style="left:48px;top:436.5px">80</div><div class="r" style="left:48px;top:467.5px">60</div><div class="r" style="left:48px;top:498.5px">40</div>
<div class="t" style="left:111px;top:537px">50</div><div class="t" style="left:183px;top:537px">100</div><div class="t" style="left:254px;top:537px">150</div>
<div class="t" style="left:181px;top:552px"><i>x</i>/mm</div>
<div class="t" style="left:173px;top:570px">(a3)&nbsp;&nbsp;<i>t</i><sub>2</sub>&nbsp;=&nbsp;(2/4)<i>T</i></div>

<div class="yl" style="left:15px;top:654px"><i>y</i>/mm</div>
<div class="r" style="left:48px;top:603.5px">100</div><div class="r" style="left:48px;top:634.5px">80</div><div class="r" style="left:48px;top:665.5px">60</div><div class="r" style="left:48px;top:696.5px">40</div>
<div class="t" style="left:113px;top:735px">50</div><div class="t" style="left:184px;top:735px">100</div><div class="t" style="left:255px;top:735px">150</div>
<div class="t" style="left:181px;top:750px"><i>x</i>/mm</div>
<div class="t" style="left:173px;top:768px">(a4)&nbsp;&nbsp;<i>t</i><sub>3</sub>&nbsp;=&nbsp;(3/4)<i>T</i></div>
<div class="t" style="left:176px;top:787px">(a) <i>β</i>=90°</div>

<!-- ================= TEXT: Column B ================= -->
<div class="yl" style="left:300px;top:66px"><i>y</i>/mm</div>
<div class="r" style="left:331px;top:15.5px">100</div><div class="r" style="left:331px;top:46.5px">80</div><div class="r" style="left:331px;top:77.5px">60</div><div class="r" style="left:331px;top:108.5px">40</div>
<div class="t" style="left:394px;top:147px">50</div><div class="t" style="left:464px;top:147px">100</div><div class="t" style="left:538px;top:147px">150</div>
<div class="t" style="left:463px;top:162px"><i>x</i>/mm</div>
<div class="t" style="left:456px;top:180px">(b1)&nbsp;&nbsp;<i>t</i><sub>0</sub>&nbsp;=&nbsp;0</div>

<div class="yl" style="left:300px;top:262px"><i>y</i>/mm</div>
<div class="r" style="left:331px;top:211.5px">100</div><div class="r" style="left:331px;top:242.5px">80</div><div class="r" style="left:331px;top:273.5px">60</div><div class="r" style="left:331px;top:304.5px">40</div>
<div class="t" style="left:392px;top:343px">50</div><div class="t" style="left:464px;top:343px">100</div><div class="t" style="left:537px;top:343px">150</div>
<div class="t" style="left:463px;top:358px"><i>x</i>/mm</div>
<div class="t" style="left:456px;top:376px">(b2)&nbsp;&nbsp;<i>t</i><sub>1</sub>&nbsp;=&nbsp;(1/4)<i>T</i></div>

<div class="yl" style="left:300px;top:456px"><i>y</i>/mm</div>
<div class="r" style="left:331px;top:405.5px">100</div><div class="r" style="left:331px;top:436.5px">80</div><div class="r" style="left:331px;top:467.5px">60</div><div class="r" style="left:331px;top:498.5px">40</div>
<div class="t" style="left:392px;top:537px">50</div><div class="t" style="left:464px;top:537px">100</div><div class="t" style="left:537px;top:537px">150</div>
<div class="t" style="left:463px;top:552px"><i>x</i>/mm</div>
<div class="t" style="left:456px;top:570px">(b3)&nbsp;&nbsp;<i>t</i><sub>2</sub>&nbsp;=&nbsp;(2/4)<i>T</i></div>

<div class="yl" style="left:300px;top:654px"><i>y</i>/mm</div>
<div class="r" style="left:331px;top:603.5px">100</div><div class="r" style="left:331px;top:634.5px">80</div><div class="r" style="left:331px;top:665.5px">60</div><div class="r" style="left:331px;top:696.5px">40</div>
<div class="t" style="left:394px;top:735px">50</div><div class="t" style="left:464px;top:735px">100</div><div class="t" style="left:538px;top:735px">150</div>
<div class="t" style="left:463px;top:750px"><i>x</i>/mm</div>
<div class="t" style="left:456px;top:768px">(b4)&nbsp;&nbsp;<i>t</i><sub>3</sub>&nbsp;=&nbsp;(3/4)<i>T</i></div>
<div class="t" style="left:461px;top:787px">(b) <i>β</i>=85°</div>

<!-- ================= TEXT: Column C ================= -->
<div class="yl" style="left:587px;top:66px"><i>y</i>/mm</div>
<div class="r" style="left:618px;top:15.5px">100</div><div class="r" style="left:618px;top:46.5px">80</div><div class="r" style="left:618px;top:77.5px">60</div><div class="r" style="left:618px;top:108.5px">40</div>
<div class="t" style="left:680px;top:147px">50</div><div class="t" style="left:751px;top:147px">100</div><div class="t" style="left:822px;top:147px">150</div>
<div class="t" style="left:750px;top:162px"><i>x</i>/mm</div>
<div class="t" style="left:743px;top:180px">(c1)&nbsp;&nbsp;<i>t</i><sub>0</sub>&nbsp;=&nbsp;0</div>

<div class="yl" style="left:587px;top:262px"><i>y</i>/mm</div>
<div class="r" style="left:618px;top:211.5px">100</div><div class="r" style="left:618px;top:242.5px">80</div><div class="r" style="left:618px;top:273.5px">60</div><div class="r" style="left:618px;top:304.5px">40</div>
<div class="t" style="left:681px;top:343px">50</div><div class="t" style="left:753px;top:343px">100</div><div class="t" style="left:823px;top:343px">150</div>
<div class="t" style="left:750px;top:358px"><i>x</i>/mm</div>
<div class="t" style="left:745px;top:376px">(c2)&nbsp;&nbsp;<i>t</i><sub>1</sub>&nbsp;=&nbsp;(1/4)<i>T</i></div>

<div class="yl" style="left:587px;top:456px"><i>y</i>/mm</div>
<div class="r" style="left:618px;top:405.5px">100</div><div class="r" style="left:618px;top:436.5px">80</div><div class="r" style="left:618px;top:467.5px">60</div><div class="r" style="left:618px;top:498.5px">40</div>
<div class="t" style="left:681px;top:537px">50</div><div class="t" style="left:753px;top:537px">100</div><div class="t" style="left:823px;top:537px">150</div>
<div class="t" style="left:750px;top:552px"><i>x</i>/mm</div>
<div class="t" style="left:745px;top:570px">(c3)&nbsp;&nbsp;<i>t</i><sub>2</sub>&nbsp;=&nbsp;(2/4)<i>T</i></div>

<div class="yl" style="left:587px;top:654px"><i>y</i>/mm</div>
<div class="r" style="left:618px;top:603.5px">100</div><div class="r" style="left:618px;top:634.5px">80</div><div class="r" style="left:618px;top:665.5px">60</div><div class="r" style="left:618px;top:696.5px">40</div>
<div class="t" style="left:681px;top:735px">50</div><div class="t" style="left:753px;top:735px">100</div><div class="t" style="left:824px;top:735px">150</div>
<div class="t" style="left:750px;top:750px"><i>x</i>/mm</div>
<div class="t" style="left:745px;top:768px">(c4)&nbsp;&nbsp;<i>t</i><sub>3</sub>&nbsp;=&nbsp;(3/4)<i>T</i></div>
<div class="t" style="left:756px;top:787px">(c) <i>β</i>=80°</div>

<!-- ================= COLORBAR ================= -->
<svg class="p" style="left:182px;top:804px;width:638px;height:17px" viewBox="-1 -1 638 17">
<rect x="0" y="0" width="24.4" height="15" fill="#2a4e9e"/>
<rect x="24.4" y="0" width="48.85" height="15" fill="#3262ad"/>
<rect x="73.25" y="0" width="48.85" height="15" fill="#3393cf"/>
<rect x="122.1" y="0" width="48.85" height="15" fill="#58c5d9"/>
<rect x="170.95" y="0" width="48.85" height="15" fill="#6ac5ab"/>
<rect x="219.8" y="0" width="48.85" height="15" fill="#6ec177"/>
<rect x="268.65" y="0" width="48.85" height="15" fill="#70bc44"/>
<rect x="317.5" y="0" width="48.85" height="15" fill="#76bd41"/>
<rect x="366.35" y="0" width="48.85" height="15" fill="#8dc53e"/>
<rect x="415.2" y="0" width="48.85" height="15" fill="#b9d54b"/>
<rect x="464.05" y="0" width="48.85" height="15" fill="#f1dc3b"/>
<rect x="512.9" y="0" width="48.85" height="15" fill="#f59633"/>
<rect x="561.75" y="0" width="48.85" height="15" fill="#ee5a2f"/>
<rect x="610.6" y="0" width="24.4" height="15" fill="#ea2f2f"/>
<path d="M24.4,0v15M73.25,0v15M122.1,0v15M170.95,0v15M219.8,0v15M268.65,0v15M317.5,0v15M366.35,0v15M415.2,0v15M464.05,0v15M512.9,0v15M561.75,0v15M610.6,0v15" stroke="#333" stroke-width="1" fill="none"/>
<rect x="0" y="0" width="635" height="15" fill="none" stroke="#333" stroke-width="1"/>
</svg>
<div style="position:absolute;left:95px;top:821px;font-size:14px;line-height:16px;white-space:nowrap;font-family:'Liberation Serif','Noto Serif CJK SC',serif;">速度/(m·s<sup>-1</sup>)</div>
<div class="t cb" style="left:207px;top:830px">0.01</div>
<div class="t cb" style="left:256px;top:830px">0.02</div>
<div class="t cb" style="left:305px;top:830px">0.03</div>
<div class="t cb" style="left:354px;top:830px">0.04</div>
<div class="t cb" style="left:403px;top:830px">0.05</div>
<div class="t cb" style="left:452px;top:830px">0.06</div>
<div class="t cb" style="left:500px;top:830px">0.07</div>
<div class="t cb" style="left:549px;top:830px">0.08</div>
<div class="t cb" style="left:598px;top:830px">0.09</div>
<div class="t cb" style="left:647px;top:830px">0.10</div>
<div class="t cb" style="left:696px;top:830px">0.11</div>
<div class="t cb" style="left:745px;top:830px">0.12</div>
<div class="t cb" style="left:794px;top:830px">0.13</div>

</body></html>
